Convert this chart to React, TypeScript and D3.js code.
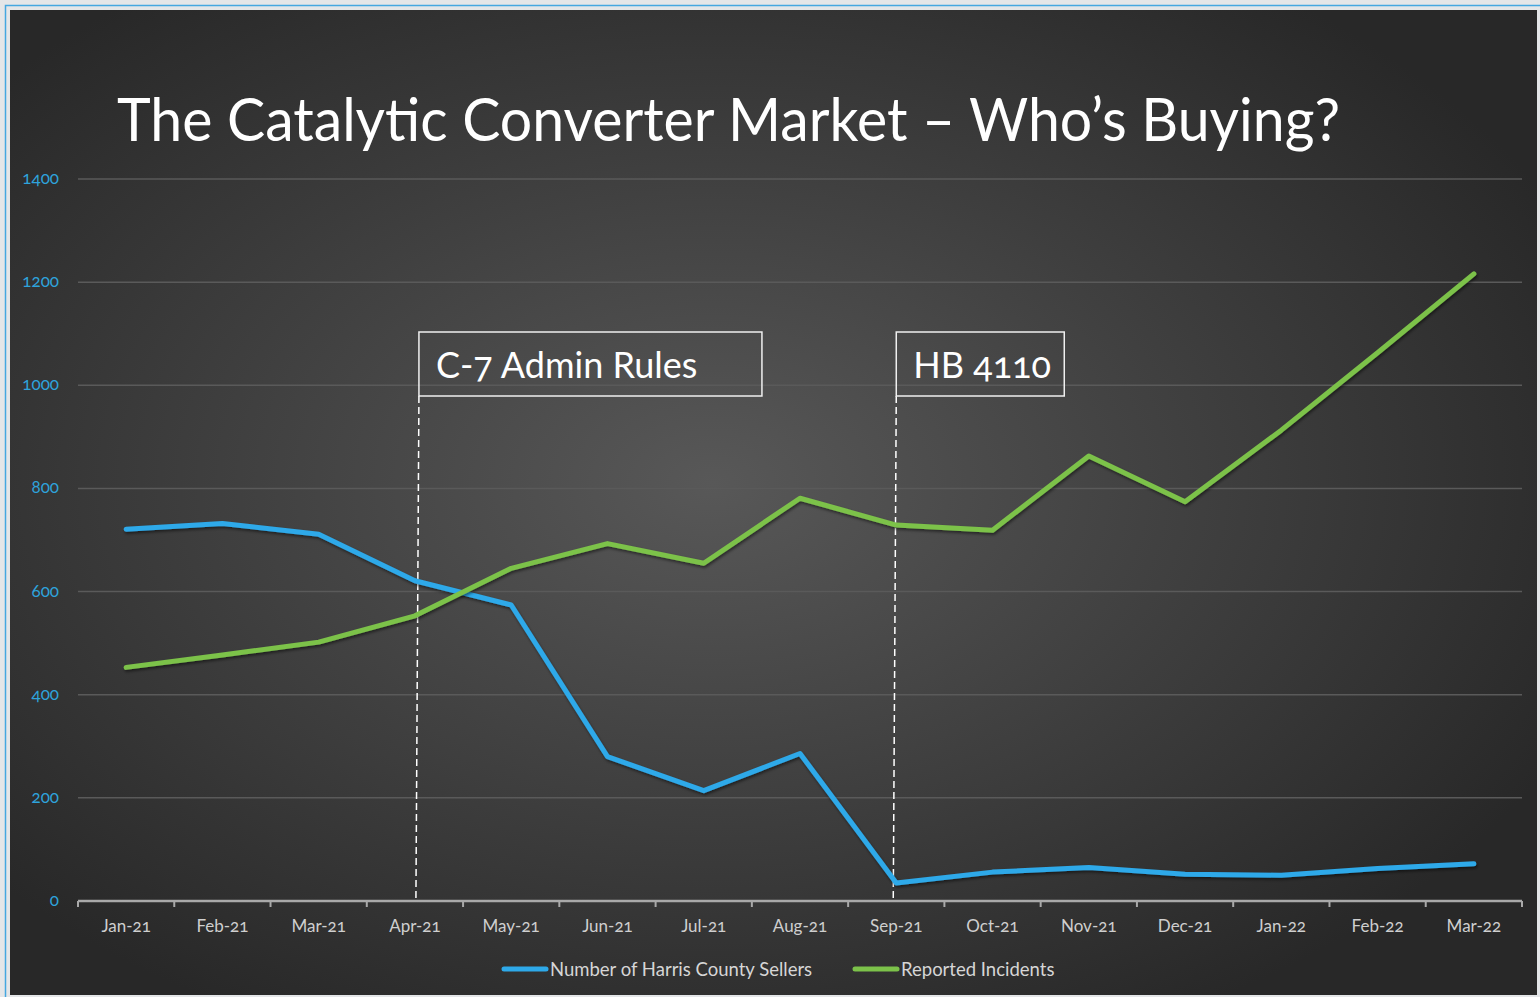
import React from "react";
import * as d3 from "d3";

const months = ["Jan-21","Feb-21","Mar-21","Apr-21","May-21","Jun-21","Jul-21","Aug-21","Sep-21","Oct-21","Nov-21","Dec-21","Jan-22","Feb-22","Mar-22"];
const sellers = [721, 732, 711, 621, 574, 280, 214, 286, 35, 56, 65, 52, 50, 63, 72];
const incidents = [453, 477, 502, 553, 645, 693, 655, 781, 729, 719, 863, 774, 913, 1063, 1216];
const yTicks = [0, 200, 400, 600, 800, 1000, 1200, 1400];
const annotations = [
  { month: "Apr-21", label: "C-7 Admin Rules", boxWidth: 343, shift: 4 },
  { month: "Sep-21", label: "HB 4110", boxWidth: 168, shift: 0 },
];
const seriesNames = ["Number of Harris County Sellers", "Reported Incidents"];
const BLUE = "#2ea9e9";
const GREEN = "#7cc24a";

const FONT = "Lato, 'Noto Sans', sans-serif";

export default function App() {
  const W = 1540, H = 997;
  const left = 78, right = 1522, top = 179, bottom = 901;
  const x = d3.scaleBand<string>().domain(months).range([left, right]).padding(0);
  const y = d3.scaleLinear().domain([0, 1400]).range([bottom, top]);
  const cx = (m: string) => (x(m) as number) + x.bandwidth() / 2;
  const line = d3.line<number>().x((_, i) => cx(months[i])).y((d) => y(d));

  const boundaries = months.map((m) => x(m) as number).concat([right]);

  return (
    <svg width={W} height={H} style={{ display: "block", position: "absolute", left: 0, top: 0 }}>
      <defs>
        <radialGradient id="bg" cx="46%" cy="48%" r="62%">
          <stop offset="0%" stopColor="#585858" />
          <stop offset="100%" stopColor="#282828" />
        </radialGradient>
        <filter id="shadow" x="-5%" y="-5%" width="110%" height="110%">
          <feDropShadow dx="1" dy="2" stdDeviation="1.5" floodColor="#000" floodOpacity="0.5" />
        </filter>
      </defs>
      <rect x={0} y={0} width={W} height={H} fill="#e4e6e8" />
      <rect x={5.5} y={5.5} width={W - 4} height={H} fill="none" stroke="#44a7e0" strokeWidth={1.5} />
      <rect x={10} y={10} width={1527} height={985} fill="url(#bg)" />

      <text x={117} y={141} fill="#ffffff" fontFamily={FONT} fontSize={60} textLength={1223} lengthAdjust="spacingAndGlyphs">
        The Catalytic Converter Market – Who’s Buying?
      </text>

      {yTicks.map((t) => (
        <g key={t}>
          {t > 0 && <line x1={left} x2={right} y1={y(t)} y2={y(t)} stroke="#5a5a5a" strokeWidth={1.5} />}
          <text x={59} y={y(t) + 5} textAnchor="end" fill="#2ea3dc" fontFamily={FONT} fontSize={17} style={{ fontVariantNumeric: "oldstyle-nums" }}>
            {t}
          </text>
        </g>
      ))}

      <line x1={left} x2={right} y1={bottom} y2={bottom} stroke="#a9a9a9" strokeWidth={2.5} />
      {boundaries.map((bx, i) => (
        <line key={i} x1={bx} x2={bx} y1={bottom} y2={bottom + 6} stroke="#a9a9a9" strokeWidth={2} />
      ))}
      {months.map((m) => (
        <text key={m} x={cx(m)} y={932} textAnchor="middle" fill="#cfcfcf" fontFamily={FONT} fontSize={17} style={{ fontVariantNumeric: "oldstyle-nums" }}>
          {m}
        </text>
      ))}

      {annotations.map((a) => {
        const ax = cx(a.month) + a.shift;
        return (
          <g key={a.label}>
            <line x1={ax} x2={ax - 3} y1={396} y2={898} stroke="#ffffff" strokeWidth={1.5} strokeDasharray="7,4" />
            <rect x={ax} y={332} width={a.boxWidth} height={64} fill="none" stroke="#f0f0f0" strokeWidth={1.5} />
            <text x={ax + 17} y={378} fill="#ffffff" fontFamily={FONT} fontSize={36} style={{ fontVariantNumeric: "oldstyle-nums" }}>
              {a.label}
            </text>
          </g>
        );
      })}

      <path d={line(sellers) || ""} fill="none" stroke={BLUE} strokeWidth={5} strokeLinecap="round" strokeLinejoin="round" filter="url(#shadow)" />
      <path d={line(incidents) || ""} fill="none" stroke={GREEN} strokeWidth={5} strokeLinecap="round" strokeLinejoin="round" filter="url(#shadow)" />

      {[{ name: seriesNames[0], color: BLUE, x0: 504 }, { name: seriesNames[1], color: GREEN, x0: 855 }].map((s) => (
        <g key={s.name}>
          <line x1={s.x0} x2={s.x0 + 42} y1={969} y2={969} stroke={s.color} strokeWidth={5} strokeLinecap="round" />
          <text x={s.x0 + 46} y={976} fill="#d6d6d6" fontFamily={FONT} fontSize={18.5}>
            {s.name}
          </text>
        </g>
      ))}
    </svg>
  );
}
